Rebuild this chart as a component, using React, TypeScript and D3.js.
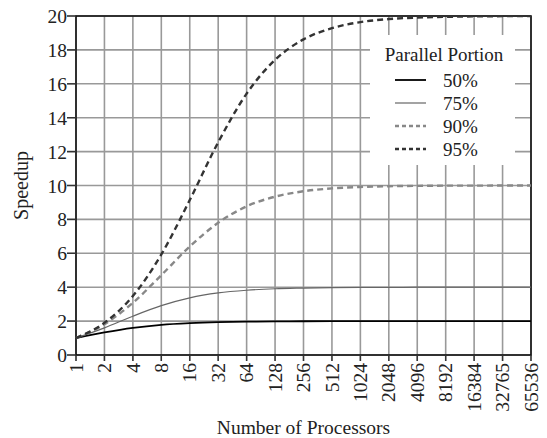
import * as d3 from 'd3'

// Amdahl: speedup for each processor count, per parallel portion
const processors = [1, 2, 4, 8, 16, 32, 64, 128, 256, 512, 1024, 2048, 4096, 8192, 16384, 32768, 65536]
const tickLabels = ['1', '2', '4', '8', '16', '32', '64', '128', '256', '512', '1024', '2048', '4096', '8192', '16384', '32765', '65536']
const yTicks = [0, 2, 4, 6, 8, 10, 12, 14, 16, 18, 20]

const p50 = [1, 1.33, 1.6, 1.78, 1.88, 1.94, 1.97, 1.98, 1.99, 2.0, 2.0, 2.0, 2.0, 2.0, 2.0, 2.0, 2.0]
const p75 = [1, 1.6, 2.29, 2.91, 3.37, 3.66, 3.82, 3.91, 3.95, 3.98, 3.99, 3.99, 4.0, 4.0, 4.0, 4.0, 4.0]
const p90 = [1, 1.82, 3.08, 4.71, 6.4, 7.8, 8.77, 9.34, 9.66, 9.83, 9.91, 9.96, 9.98, 9.99, 9.99, 10.0, 10.0]
const p95 = [1, 1.9, 3.48, 5.93, 9.14, 12.55, 15.42, 17.41, 18.62, 19.28, 19.64, 19.82, 19.91, 19.95, 19.98, 19.99, 19.99]

const seriesNames = ['50%', '75%', '90%', '95%']
const seriesData = [p50, p75, p90, p95]

const STYLES = [
  { stroke: '#000', width: 1.8, dash: null },
  { stroke: '#666', width: 1.2, dash: null },
  { stroke: '#888', width: 2.4, dash: '6,4' },
  { stroke: '#333', width: 2.4, dash: '6,4' },
]

const FONT = '"Liberation Serif", "Times New Roman", serif'

export default function App() {
  const W = 547, H = 438
  const L = 76, R = 531, T = 16, B = 355

  const x = d3.scaleLog().base(2).domain([1, 65536]).range([L, R])
  const y = d3.scaleLinear().domain([0, 20]).range([B, T])

  const line = d3.line<number>()
    .x((d, i) => x(processors[i]))
    .y(d => y(d))
    .curve(d3.curveMonotoneX)

  // legend box (hides grid behind it)
  const lg = { x: 370, y: 35, w: 145, h: 130 }
  const rowY = [80, 103, 126, 149]

  return (
    <svg width={W} height={H} style={{ position: 'absolute', left: 0, top: 0 }} fontFamily={FONT}>
      <rect width={W} height={H} fill="#fff" />
      {/* grid */}
      {processors.map((p, i) => (
        <line key={'gx' + i} x1={x(p)} x2={x(p)} y1={T} y2={B + 6} stroke="#999" strokeWidth={1.6} />
      ))}
      {yTicks.map(t => (
        <line key={'gy' + t} x1={L - 9} x2={R} y1={y(t)} y2={y(t)} stroke="#999" strokeWidth={1.6} />
      ))}
      <rect x={lg.x} y={lg.y} width={lg.w} height={lg.h} fill="#fff" />

      {/* frame */}
      <rect x={L} y={T} width={R - L} height={B - T} fill="none" stroke="#111" strokeWidth={1.6} />
      {yTicks.map(t => (
        <line key={'ty' + t} x1={L - 9} x2={L} y1={y(t)} y2={y(t)} stroke="#333" strokeWidth={1.4} />
      ))}
      {processors.map((p, i) => (
        <line key={'tx' + i} x1={x(p)} x2={x(p)} y1={B} y2={B + 6} stroke="#333" strokeWidth={1.4} />
      ))}

      {/* series */}
      {seriesData.map((vals, i) => (
        <path key={seriesNames[i]} d={line(vals) || ''} fill="none"
          stroke={STYLES[i].stroke} strokeWidth={STYLES[i].width}
          strokeDasharray={STYLES[i].dash || undefined} />
      ))}

      {/* y tick labels */}
      {yTicks.map(t => (
        <text key={'ly' + t} x={L - 9} y={y(t) + 7} textAnchor="end" fontSize={19.5} fill="#222">{t}</text>
      ))}
      {/* x tick labels */}
      {processors.map((p, i) => (
        <text key={'lx' + i} transform={`translate(${x(p)},${B + 8}) rotate(-90)`} textAnchor="end"
          dy="0.34em" fontSize={19.5} fill="#222">{tickLabels[i]}</text>
      ))}

      {/* axis titles */}
      <text x={(L + R) / 2} y={434} textAnchor="middle" fontSize={19.5} fill="#222">Number of Processors</text>
      <text transform={`translate(28,${(T + B) / 2}) rotate(-90)`} textAnchor="middle" fontSize={20} fill="#222">Speedup</text>

      {/* legend */}
      <text x={444} y={61} textAnchor="middle" fontSize={19} fill="#222">Parallel Portion</text>
      {seriesNames.map((name, i) => (
        <g key={'lg' + name}>
          <line x1={395} x2={426} y1={rowY[i]} y2={rowY[i]} stroke={STYLES[i].stroke}
            strokeWidth={STYLES[i].width} strokeDasharray={STYLES[i].dash ? '4,3' : undefined} />
          <text x={443} y={rowY[i] + 6.5} fontSize={19} fill="#222">{name}</text>
        </g>
      ))}
    </svg>
  )
}
